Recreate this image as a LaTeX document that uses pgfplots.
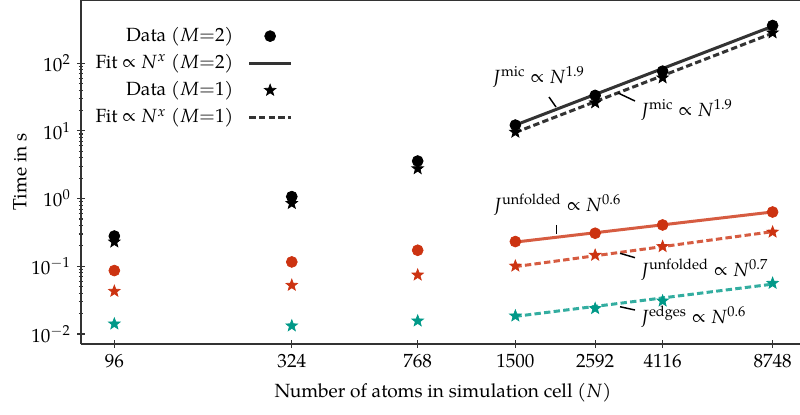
\documentclass[border=0pt]{standalone}
\usepackage{mathpazo}
\usepackage[no-math]{fontspec}
\setmainfont{TeX Gyre Pagella}
\usepackage{pgfplots}
\pgfplotsset{compat=1.18}
\usetikzlibrary{calc}

\definecolor{tred}{HTML}{CC3311}
\definecolor{tteal}{HTML}{009988}
\definecolor{dgray}{HTML}{333333}

\pgfdeclareplotmark{fstar}{%
  \pgfpathmoveto{\pgfpointpolar{90}{\pgfplotmarksize}}%
  \pgfpathlineto{\pgfpointpolar{126}{0.42\pgfplotmarksize}}%
  \pgfpathlineto{\pgfpointpolar{162}{\pgfplotmarksize}}%
  \pgfpathlineto{\pgfpointpolar{198}{0.42\pgfplotmarksize}}%
  \pgfpathlineto{\pgfpointpolar{234}{\pgfplotmarksize}}%
  \pgfpathlineto{\pgfpointpolar{270}{0.42\pgfplotmarksize}}%
  \pgfpathlineto{\pgfpointpolar{306}{\pgfplotmarksize}}%
  \pgfpathlineto{\pgfpointpolar{342}{0.42\pgfplotmarksize}}%
  \pgfpathlineto{\pgfpointpolar{18}{\pgfplotmarksize}}%
  \pgfpathlineto{\pgfpointpolar{54}{0.42\pgfplotmarksize}}%
  \pgfpathclose
  \pgfusepathqfillstroke
}

\begin{document}
\fontsize{10.5}{12.5}\selectfont
\begin{tikzpicture}
\begin{axis}[
  name=ax,
  scale only axis, width=395.45pt, height=189.2pt,
  xmode=log, ymode=log,
  xmin=76.4, xmax=10556, ymin=0.00711, ymax=860,
  xtick={96,324,768,1500,2592,4116,8748},
  xticklabels={96,324,768,1500,2592,4116,8748},
  xminorticks=false,
  ytick={0.01,0.1,1,10,100},
  yticklabels={$10^{-2}$,$10^{-1}$,$10^{0}$,$10^{1}$,$10^{2}$},
  axis x line*=bottom, axis y line*=left,
  axis line style={dgray, line width=0.8pt},
  tick align=center,
  major tick length=4pt, minor tick length=2.4pt,
  every tick/.style={dgray, line width=0.6pt},
  xlabel={Number of atoms in simulation cell ($N$)},
  ylabel={Time in s},
  every axis x label/.style={at={(axis description cs:0.5035,-0.1424)}, anchor=center},
  every axis y label/.style={at={(axis description cs:-0.0848,0.5)}, rotate=90, anchor=center},
  legend plot pos=right,
  legend cell align=right,
  legend style={draw=none, fill=none, at={(axis description cs:0.302,0.942)}, anchor=north east,
    row sep=1.5pt, /tikz/every odd column/.append style={column sep=6pt}},
  legend image code/.code={\draw[mark repeat=2,mark phase=2,#1] plot coordinates {(0cm,0cm) (0.4cm,0cm) (0.8cm,0cm)};},
]
% legend entries
\addlegendimage{only marks, mark=*, mark size=3pt, black}
\addlegendentry{Data ($M{=}2$)}
\addlegendimage{dgray, line width=1.65pt}
\addlegendentry{Fit $\propto N^x$ ($M{=}2$)}
\addlegendimage{only marks, mark=fstar, mark size=3.3pt, black}
\addlegendentry{Data ($M{=}1$)}
\addlegendimage{dgray, line width=1.65pt, dash pattern=on 3.5pt off 1.8pt}
\addlegendentry{Fit $\propto N^x$ ($M{=}1$)}

% fit lines
\addplot[forget plot, black, opacity=0.8, line width=1.65pt] coordinates {(1500,12.2) (8748,352)};
\addplot[forget plot, black, opacity=0.8, line width=1.65pt, dash pattern=on 3.5pt off 1.8pt] coordinates {(1500,9.5) (8748,278)};
\addplot[forget plot, tred, opacity=0.8, line width=1.65pt] coordinates {(1500,0.228) (8748,0.635)};
\addplot[forget plot, tred, opacity=0.8, line width=1.65pt, dash pattern=on 3.5pt off 1.8pt] coordinates {(1500,0.099) (8748,0.325)};
\addplot[forget plot, tteal, opacity=0.8, line width=1.65pt, dash pattern=on 3.5pt off 1.8pt] coordinates {(1500,0.0182) (8748,0.0545)};

% data
\addplot[forget plot, only marks, mark=*, mark size=3pt, black] coordinates {
 (96,0.28) (324,1.07) (768,3.59) (1500,12.2) (2592,33.5) (4116,76.4) (8748,361)};
\addplot[forget plot, only marks, mark=fstar, mark size=3.3pt, black] coordinates {
 (96,0.229) (324,0.85) (768,2.77) (1500,9.6) (2592,26.1) (4116,61) (8748,282)};
\addplot[forget plot, only marks, mark=*, mark size=3pt, tred] coordinates {
 (96,0.0865) (324,0.116) (768,0.1726) (1500,0.232) (2592,0.308) (4116,0.408) (8748,0.634)};
\addplot[forget plot, only marks, mark=fstar, mark size=3.3pt, tred] coordinates {
 (96,0.0428) (324,0.0525) (768,0.0745) (1500,0.101) (2592,0.146) (4116,0.196) (8748,0.321)};
\addplot[forget plot, only marks, mark=fstar, mark size=3.3pt, tteal] coordinates {
 (96,0.0141) (324,0.0132) (768,0.0156) (1500,0.0185) (2592,0.0238) (4116,0.0308) (8748,0.0562)};

% annotations
\node[anchor=west, inner sep=0pt] at (rel axis cs:0.5716,0.776) {$J^{\mathrm{mic}} \propto N^{1.9}$};
\draw[black, line width=0.8pt] (rel axis cs:0.6509,0.718) -- (rel axis cs:0.6606,0.689);
\node[anchor=west, inner sep=0pt] at (rel axis cs:0.7775,0.680) {$J^{\mathrm{mic}} \propto N^{1.9}$};
\draw[black, line width=0.8pt] (rel axis cs:0.7469,0.7297) -- (rel axis cs:0.7705,0.7064);
\node[anchor=west, inner sep=0pt] at (rel axis cs:0.573,0.404) {$J^{\mathrm{unfolded}} \propto N^{0.6}$};
\draw[black, line width=0.8pt] (rel axis cs:0.6616,0.346) -- (rel axis cs:0.6616,0.319);
\node[anchor=west, inner sep=0pt] at (rel axis cs:0.7775,0.215) {$J^{\mathrm{unfolded}} \propto N^{0.7}$};
\draw[black, line width=0.8pt] (rel axis cs:0.7497,0.2637) -- (rel axis cs:0.7705,0.2509);
\node[anchor=west, inner sep=0pt] at (rel axis cs:0.7775,0.0794) {$J^{\mathrm{edges}} \propto N^{0.6}$};
\draw[black, line width=0.8pt] (rel axis cs:0.7497,0.1084) -- (rel axis cs:0.7705,0.0988);
\end{axis}
\draw[dgray, line width=0.8pt] (ax.north west) -- (ax.north east);
\pgfresetboundingbox
\path[use as bounding box] ($(ax.south west)+(-44.55pt,-38.5pt)$) rectangle (ax.north east);
\end{tikzpicture}
\end{document}
